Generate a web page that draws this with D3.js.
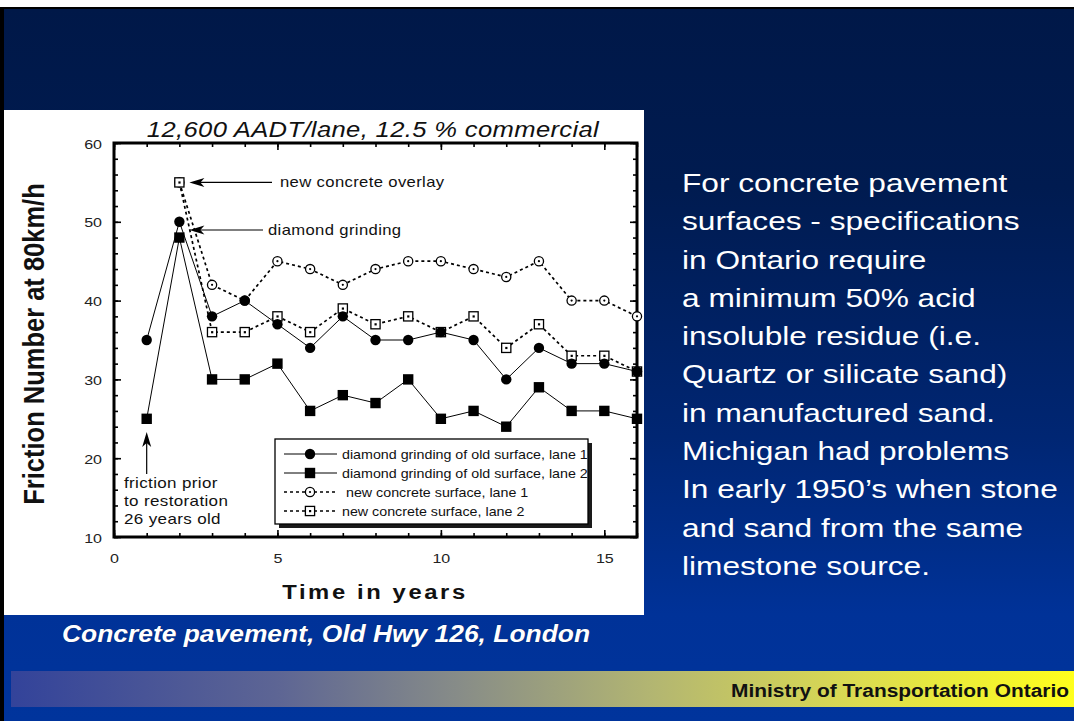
<!DOCTYPE html>
<html>
<head>
<meta charset="utf-8">
<script src="https://cdn.jsdelivr.net/npm/d3@7"></script>
<style>
  html, body { margin: 0; padding: 0; background: #ffffff; }
  svg { display: block; }
</style>
</head>
<body>
<svg id="slide" width="1074" height="721"></svg>
<script>
// ---- data ----
const yearsOld   = [1, 2, 3, 4, 5, 6, 7, 8, 9, 10, 11, 12, 13, 14, 15, 16];
const grindLane1 = [35, 50, 38, 40, 37, 34, 38, 35, 35, 36, 35, 30, 34, 32, 32, 31];
const grindLane2 = [25, 48, 30, 30, 32, 26, 28, 27, 30, 25, 26, 24, 29, 26, 26, 25];
const yearsNew   = [2, 3, 4, 5, 6, 7, 8, 9, 10, 11, 12, 13, 14, 15, 16];
const newLane1   = [55, 42, 40, 45, 44, 42, 44, 45, 45, 44, 43, 45, 40, 40, 38];
const newLane2   = [55, 36, 36, 38, 36, 39, 37, 38, 36, 38, 34, 37, 33, 33, 31];

const xMajorTicks = [0, 5, 10, 15];
const yMajorTicks = [10, 20, 30, 40, 50, 60];

const seriesNames = [
  "diamond grinding of old surface, lane 1",
  "diamond grinding of old surface, lane 2",
  " new concrete surface, lane 1",
  "new concrete surface, lane 2"
];

const chartTitle = "12,600 AADT/lane, 12.5 % commercial";
const xTitle = "Time in years";
const yTitle = "Friction Number at 80km/h";
const caption = "Concrete pavement, Old Hwy 126, London";
const footer = "Ministry of Transportation Ontario";
const bodyLines = [
  "For concrete pavement",
  "surfaces - specifications",
  "in Ontario require",
  "a minimum 50% acid",
  "insoluble residue (i.e.",
  "Quartz or silicate sand)",
  "in manufactured sand.",
  "Michigan had problems",
  "In early 1950\u2019s when stone",
  "and sand from the same",
  "limestone source."
];

// ---- setup ----
const FONT = "'Liberation Sans', Arial, Helvetica, sans-serif";
const SX = 1.19; // horizontal stretch of the slide's lettering
const svg = d3.select("#slide");
const defs = svg.append("defs");

const bg = defs.append("linearGradient").attr("id", "bgGrad")
  .attr("x1", 0).attr("y1", 0).attr("x2", 0).attr("y2", 1);
bg.append("stop").attr("offset", "0%").attr("stop-color", "#001848");
bg.append("stop").attr("offset", "25%").attr("stop-color", "#001b50");
bg.append("stop").attr("offset", "60%").attr("stop-color", "#002673");
bg.append("stop").attr("offset", "85%").attr("stop-color", "#003298");
bg.append("stop").attr("offset", "100%").attr("stop-color", "#00349c");

const fg = defs.append("linearGradient").attr("id", "footGrad")
  .attr("x1", 0).attr("y1", 0).attr("x2", 1).attr("y2", 0);
[["0%", "#33439a"], ["25%", "#5d6594"], ["42%", "#878c88"], ["60%", "#b2b572"],
 ["80%", "#dcdc50"], ["100%", "#ffff1c"]].forEach(([o, c]) =>
  fg.append("stop").attr("offset", o).attr("stop-color", c));

// slide background
svg.append("rect").attr("x", 0).attr("y", 0).attr("width", 1074).attr("height", 721).attr("fill", "#ffffff");
svg.append("rect").attr("x", 0).attr("y", 7).attr("width", 1074).attr("height", 714).attr("fill", "#000000");
svg.append("rect").attr("x", 4).attr("y", 9).attr("width", 1070).attr("height", 712).attr("fill", "url(#bgGrad)");

// footer band
svg.append("rect").attr("x", 11).attr("y", 671).attr("width", 1063).attr("height", 36).attr("fill", "url(#footGrad)");
svg.append("text")
  .attr("x", 1069).attr("y", 697)
  .attr("text-anchor", "end")
  .attr("textLength", 338).attr("lengthAdjust", "spacingAndGlyphs")
  .attr("font-family", FONT).attr("font-weight", "bold").attr("font-size", 17.5)
  .attr("fill", "#111111").text(footer);

// caption under the chart
svg.append("text")
  .attr("x", 62).attr("y", 642)
  .attr("textLength", 528).attr("lengthAdjust", "spacingAndGlyphs")
  .attr("font-family", FONT).attr("font-weight", "bold").attr("font-style", "italic")
  .attr("font-size", 24).attr("fill", "#ffffff")
  .style("paint-order", "stroke").attr("stroke", "#00215e").attr("stroke-width", 0.6)
  .text(caption);

// body text on the right
const body = svg.append("g").attr("transform", `translate(682,0) scale(${SX},1)`);
body.selectAll("text").data(bodyLines).join("text")
  .attr("x", 0).attr("y", (d, i) => 192 + i * 38.3)
  .attr("font-family", FONT).attr("font-size", 26.6).attr("fill", "#ffffff")
  .text(d => d);

// ---- chart panel ----
svg.append("rect").attr("x", 4).attr("y", 110).attr("width", 640).attr("height", 505).attr("fill", "#ffffff");

const plot = { left: 114, right: 637, top: 143, bottom: 537 };
const x = d3.scaleLinear().domain([0, 16]).range([plot.left, plot.right]);
const y = d3.scaleLinear().domain([10, 60]).range([plot.bottom, plot.top]);

const chart = svg.append("g");

// tick marks on all four sides, pointing inward
function tickAxis(axisFn, scale, values, size, transform) {
  const g = chart.append("g").attr("transform", transform)
    .call(axisFn(scale).tickValues(values).tickSize(size).tickFormat(""));
  g.select(".domain").remove();
  g.selectAll("line").attr("stroke", "#000").attr("stroke-width", 1.6);
  return g;
}
const xMinor = d3.range(0, 17);
const yMinor = d3.range(10, 61, 2);
tickAxis(d3.axisBottom, x, xMinor, -4, `translate(0,${plot.bottom})`);
tickAxis(d3.axisBottom, x, xMajorTicks, -7, `translate(0,${plot.bottom})`);
tickAxis(d3.axisTop, x, xMinor, -4, `translate(0,${plot.top})`);
tickAxis(d3.axisTop, x, xMajorTicks, -7, `translate(0,${plot.top})`);
tickAxis(d3.axisLeft, y, yMinor, -4, `translate(${plot.left},0)`);
tickAxis(d3.axisLeft, y, yMajorTicks, -7, `translate(${plot.left},0)`);
tickAxis(d3.axisRight, y, yMinor, -4, `translate(${plot.right},0)`);
tickAxis(d3.axisRight, y, yMajorTicks, -7, `translate(${plot.right},0)`);

// tick labels
const xLab = chart.append("g").attr("transform", `translate(0,${plot.bottom})`)
  .call(d3.axisBottom(x).tickValues(xMajorTicks).tickSize(0).tickPadding(0).tickFormat(d3.format("d")));
xLab.select(".domain").remove();
xLab.selectAll("text").attr("y", 0).attr("dy", 0)
  .attr("transform", `translate(0,26) scale(${SX},1)`)
  .attr("font-family", FONT).attr("font-size", 13.5).attr("fill", "#222");

const yLab = chart.append("g").attr("transform", `translate(${plot.left},0)`)
  .call(d3.axisLeft(y).tickValues(yMajorTicks).tickSize(0).tickPadding(0).tickFormat(d3.format("d")));
yLab.select(".domain").remove();
yLab.selectAll("text").attr("x", 0).attr("dy", 0)
  .attr("transform", `translate(-12,5) scale(${SX},1)`)
  .attr("font-family", FONT).attr("font-size", 13.5).attr("fill", "#222");

// frame
chart.append("rect")
  .attr("x", plot.left).attr("y", plot.top)
  .attr("width", plot.right - plot.left).attr("height", plot.bottom - plot.top)
  .attr("fill", "none").attr("stroke", "#000").attr("stroke-width", 3);

// titles
chart.append("text")
  .attr("transform", `translate(373,137) scale(${SX},1)`)
  .attr("text-anchor", "middle")
  .attr("font-family", FONT).attr("font-style", "italic").attr("font-size", 21.5)
  .attr("letter-spacing", 0.3).attr("fill", "#111").text(chartTitle);

chart.append("text")
  .attr("transform", `translate(375,599) scale(${SX},1)`)
  .attr("text-anchor", "middle")
  .attr("font-family", FONT).attr("font-weight", "bold").attr("font-size", 20)
  .attr("letter-spacing", 2.2).attr("fill", "#111").text(xTitle);

chart.append("text")
  .attr("transform", `translate(44,344) scale(${SX},1) rotate(-90)`)
  .attr("text-anchor", "middle")
  .attr("font-family", FONT).attr("font-weight", "bold").attr("font-size", 25.5)
  .attr("fill", "#111").text(yTitle);

// ---- series ----
const line = d3.line().x(d => x(d[0])).y(d => y(d[1]));
const zip = (xs, ys) => xs.map((v, i) => [v, ys[i]]);

const s1 = zip(yearsOld, grindLane1);
const s2 = zip(yearsOld, grindLane2);
const s3 = zip(yearsNew, newLane1);
const s4 = zip(yearsNew, newLane2);

const lines = chart.append("g").attr("fill", "none").attr("stroke", "#000");
lines.append("path").datum(s1).attr("d", line).attr("stroke-width", 1);
lines.append("path").datum(s2).attr("d", line).attr("stroke-width", 1);
lines.append("path").datum(s3).attr("d", line).attr("stroke-width", 1.7).attr("stroke-dasharray", "3,3");
lines.append("path").datum(s4).attr("d", line).attr("stroke-width", 1.7).attr("stroke-dasharray", "3,3");

// marker painters
function openCircle(g, cx, cy) {
  g.append("circle").attr("cx", cx).attr("cy", cy).attr("r", 4.6)
    .attr("fill", "#fff").attr("stroke", "#000").attr("stroke-width", 1.3);
  g.append("circle").attr("cx", cx).attr("cy", cy).attr("r", 1.1).attr("fill", "#000");
}
function openSquare(g, cx, cy) {
  g.append("rect").attr("x", cx - 4.6).attr("y", cy - 4.6).attr("width", 9.2).attr("height", 9.2)
    .attr("fill", "#fff").attr("stroke", "#000").attr("stroke-width", 1.3);
  g.append("rect").attr("x", cx - 1).attr("y", cy - 1).attr("width", 2.2).attr("height", 2.2).attr("fill", "#000");
}
function filledCircle(g, cx, cy) {
  g.append("circle").attr("cx", cx).attr("cy", cy).attr("r", 5.2).attr("fill", "#000");
}
function filledSquare(g, cx, cy) {
  g.append("rect").attr("x", cx - 5.2).attr("y", cy - 5.2).attr("width", 10.4).attr("height", 10.4).attr("fill", "#000");
}

const marks = chart.append("g");
s3.forEach(d => openCircle(marks, x(d[0]), y(d[1])));
s4.forEach(d => openSquare(marks, x(d[0]), y(d[1])));
s2.forEach(d => filledSquare(marks, x(d[0]), y(d[1])));
s1.forEach(d => filledCircle(marks, x(d[0]), y(d[1])));

// ---- annotations ----
function leftArrow(tipX, tipY, endX) {
  chart.append("line").attr("x1", tipX + 10).attr("y1", tipY).attr("x2", endX).attr("y2", tipY)
    .attr("stroke", "#000").attr("stroke-width", 1.2);
  chart.append("path")
    .attr("d", `M${tipX},${tipY} L${tipX + 15},${tipY - 4.5} L${tipX + 11},${tipY} L${tipX + 15},${tipY + 4.5} Z`)
    .attr("fill", "#000");
}
function annoText(tx, ty, str, size) {
  chart.append("text")
    .attr("transform", `translate(${tx},${ty}) scale(${SX},1)`)
    .attr("font-family", FONT).attr("font-size", size).attr("fill", "#111")
    .attr("letter-spacing", 0.3).text(str);
}

leftArrow(x(2) + 10, y(55), 272);
annoText(280, 187, "new concrete overlay", 14);
leftArrow(x(2) + 10, 230, 263);
annoText(268, 235, "diamond grinding", 14);

// upward arrow to the pre-restoration reading
const ax = x(1);
chart.append("line").attr("x1", ax).attr("y1", 443).attr("x2", ax).attr("y2", 474)
  .attr("stroke", "#000").attr("stroke-width", 1.2);
chart.append("path")
  .attr("d", `M${ax},${432} L${ax - 4.5},${447} L${ax},${443} L${ax + 4.5},${447} Z`)
  .attr("fill", "#000");
["friction prior", "to restoration", "26 years old"].forEach((s, i) =>
  annoText(124, 488 + i * 18.2, s, 14.3));

// ---- legend ----
const lg = { x: 275, y: 439, w: 313, h: 85 };
chart.append("rect").attr("x", lg.x + 4).attr("y", lg.y + 4).attr("width", lg.w).attr("height", lg.h)
  .attr("fill", "#1a1a1a");
chart.append("rect").attr("x", lg.x).attr("y", lg.y).attr("width", lg.w).attr("height", lg.h)
  .attr("fill", "#fff").attr("stroke", "#000").attr("stroke-width", 1.3);

const rowY = i => 454 + i * 19;
const legendMarker = [filledCircle, filledSquare, openCircle, openSquare];
seriesNames.forEach((name, i) => {
  const ly = rowY(i);
  const dotted = i >= 2;
  chart.append("line").attr("x1", 284).attr("x2", 337).attr("y1", ly).attr("y2", ly)
    .attr("stroke", "#000").attr("stroke-width", dotted ? 1.6 : 1)
    .attr("stroke-dasharray", dotted ? "3,3" : null);
  legendMarker[i](chart, 310, ly);
  chart.append("text")
    .attr("transform", `translate(342,${ly + 4.5}) scale(${SX},1)`)
    .attr("font-family", FONT).attr("font-size", 12).attr("fill", "#111")
    .style("white-space", "pre")
    .text(name);
});
</script>
</body>
</html>
